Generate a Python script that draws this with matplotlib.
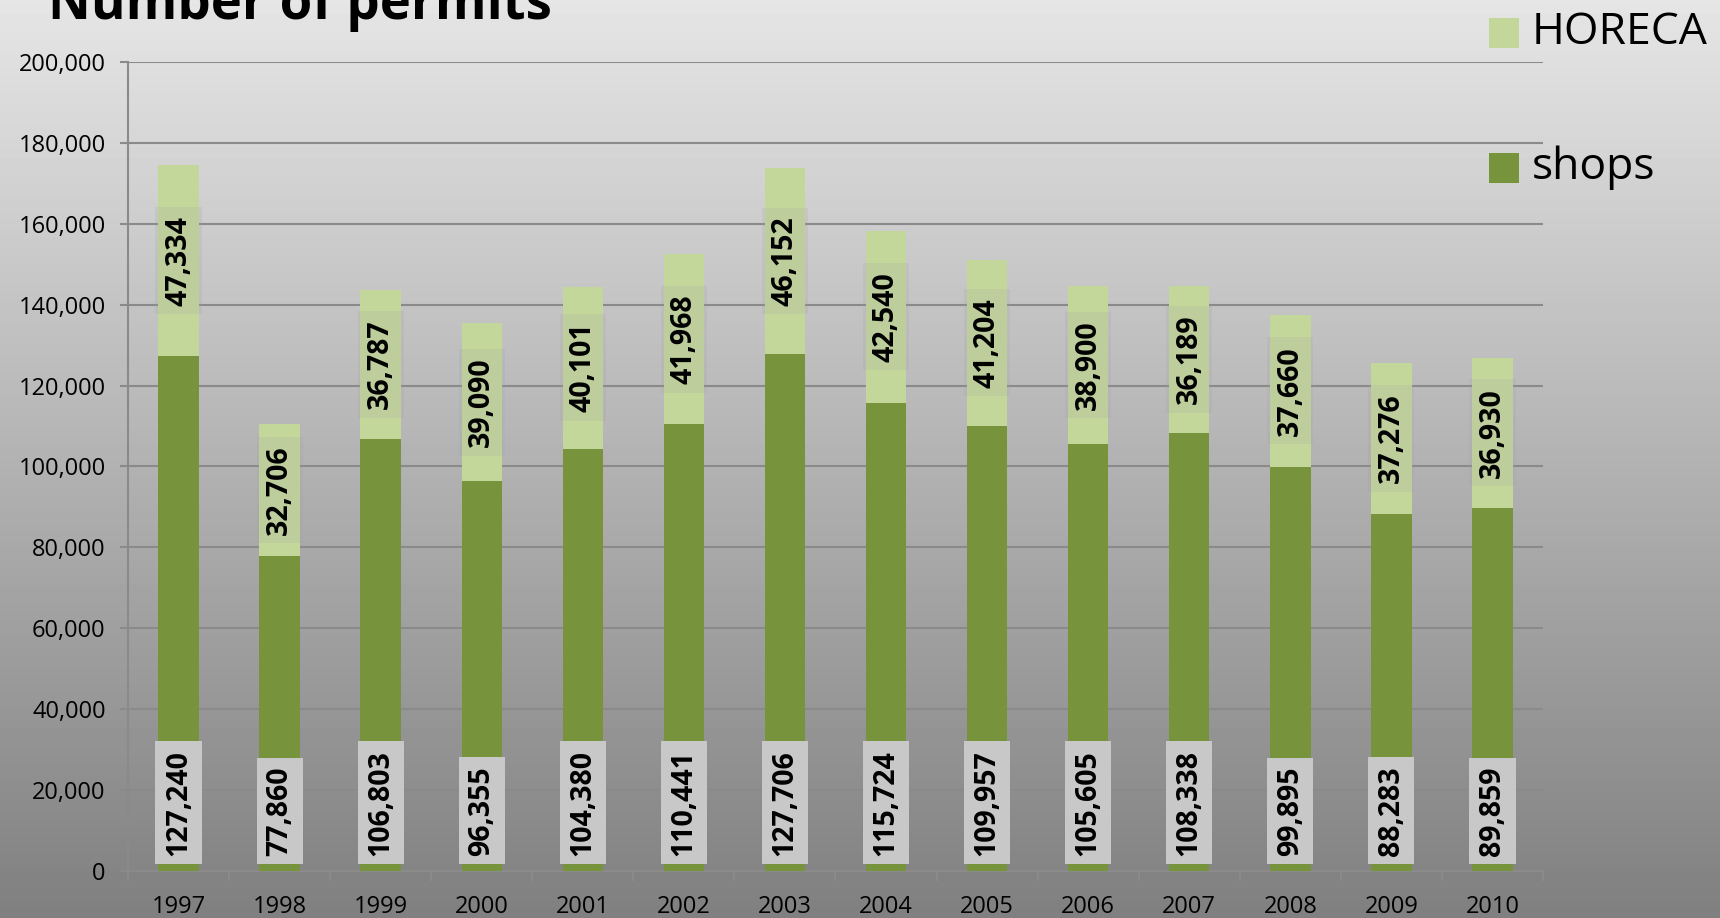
import numpy as np
import matplotlib.pyplot as plt
from matplotlib.patches import Rectangle
from matplotlib.ticker import FuncFormatter

# data
years = ['1997', '1998', '1999', '2000', '2001', '2002', '2003',
         '2004', '2005', '2006', '2007', '2008', '2009', '2010']
shops = [127240, 77860, 106803, 96355, 104380, 110441, 127706,
         115724, 109957, 105605, 108338, 99895, 88283, 89859]
horeca = [47334, 32706, 36787, 39090, 40101, 41968, 46152,
          42540, 41204, 38900, 36189, 37660, 37276, 36930]

c_shops = '#77933c'
c_horeca = '#c4d79b'
plt.rcParams['font.family'] = ['Open Sans', 'DejaVu Sans']

fig = plt.figure(figsize=(17.2, 9.18), dpi=100)

# gradient background
bg = fig.add_axes([0, 0, 1, 1], zorder=-10)
grad = np.linspace(0.90, 0.50, 256).reshape(-1, 1)
bg.imshow(grad, cmap='gray', vmin=0, vmax=1, aspect='auto', extent=[0, 1, 0, 1])
bg.axis('off')

ax = fig.add_axes([0.0744, 0.0512, 0.8227, 0.8813])
ax.patch.set_alpha(0)
x = np.arange(len(years))
ax.bar(x, shops, width=0.4, color=c_shops, zorder=3)
ax.bar(x, horeca, width=0.4, bottom=shops, color=c_horeca, zorder=3)

ax.set_xlim(-0.5, len(years) - 0.5)
ax.set_ylim(0, 200000)
ax.set_yticks(np.arange(0, 200001, 20000))
ax.yaxis.set_major_formatter(FuncFormatter(lambda v, p: f'{int(v):,}'))
ax.yaxis.grid(True, color='#8a8a8a', lw=1.5, zorder=0)
ax.set_axisbelow(True)
for s in ['top', 'right']:
    ax.spines[s].set_visible(False)
ax.spines['left'].set_color('#8a8a8a')
ax.spines['bottom'].set_color('#8a8a8a')
ax.spines['left'].set_linewidth(1.5)
ax.spines['bottom'].set_linewidth(1.5)
ax.tick_params(axis='y', length=6, color='#8a8a8a', width=1.5, labelsize=17, pad=10)
ax.set_xticks(x)
ax.set_xticklabels(years)
ax.set_xticks(np.arange(-0.5, len(years), 1), minor=True)
ax.tick_params(axis='x', which='major', length=0, labelsize=17, pad=17)
ax.tick_params(axis='x', which='minor', length=7, color='#8a8a8a', width=1.5)

# value labels
for i in range(len(years)):
    ax.text(x[i], 3800, f'{shops[i]:,}', rotation=90, ha='center', va='bottom',
            fontsize=20.5, fontweight='bold', zorder=5,
            bbox=dict(boxstyle='square,pad=0.3', fc='#c8c8c8', ec='none'))
    ax.text(x[i], shops[i] + horeca[i] / 2, f'{horeca[i]:,}', rotation=90,
            ha='center', va='center', fontsize=20.5, fontweight='bold', zorder=5,
            bbox=dict(boxstyle='square,pad=0.3', fc='#a0a0a0', alpha=0.18, ec='none'))

# title (partly cut off at the top, as in the reference)
fig.text(48 / 1720, 1 - 19 / 918, 'Number of permits', fontsize=38, fontweight='bold',
         ha='left', va='baseline')

# legend
for label, col, yc in [('HORECA', c_horeca, 33), ('shops', c_shops, 168)]:
    fig.patches.append(Rectangle((1489 / 1720, 1 - (yc + 15) / 918), 30 / 1720, 30 / 918,
                                 transform=fig.transFigure, fc=col, ec='none'))
    fig.text(1532 / 1720, 1 - yc / 918, label, fontsize=32, ha='left', va='center')

fig.savefig('out.png', dpi=100)
